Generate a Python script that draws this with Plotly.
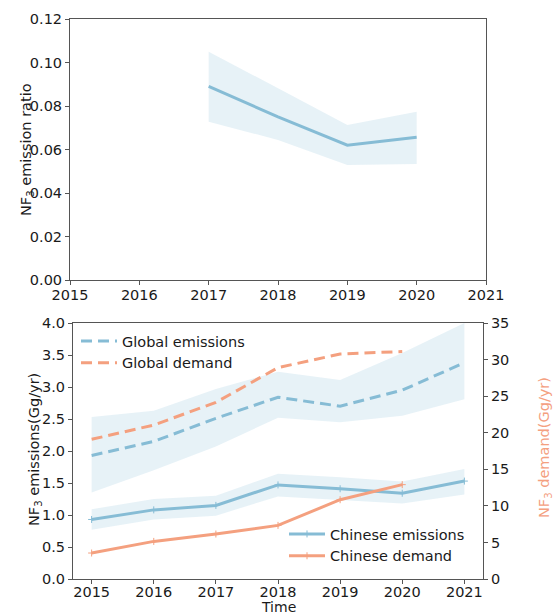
import plotly.graph_objects as go

# ---- data ----
ratio_years = [2017, 2018, 2019, 2020]
ratio_mean = [0.089, 0.075, 0.062, 0.0656]
ratio_upper = [0.105, 0.088, 0.0713, 0.0774]
ratio_lower = [0.0728, 0.0644, 0.0529, 0.0533]

years = [2015, 2016, 2017, 2018, 2019, 2020, 2021]
global_emis = [1.93, 2.15, 2.51, 2.84, 2.70, 2.95, 3.38]
global_emis_upper = [2.53, 2.63, 2.97, 3.24, 3.11, 3.53, 4.00]
global_emis_lower = [1.35, 1.70, 2.07, 2.52, 2.45, 2.55, 2.81]

china_emis = [0.93, 1.08, 1.15, 1.47, 1.41, 1.34, 1.53]
china_emis_upper = [1.09, 1.25, 1.30, 1.645, 1.59, 1.525, 1.72]
china_emis_lower = [0.77, 0.93, 0.99, 1.29, 1.24, 1.18, 1.32]

demand_years = [2015, 2016, 2017, 2018, 2019, 2020]
global_demand = [19.1, 21.05, 24.15, 28.9, 30.76, 31.1]
china_demand = [3.55, 5.14, 6.15, 7.33, 10.84, 12.9]

ratio_ticks = [0, 0.02, 0.04, 0.06, 0.08, 0.10, 0.12]
emis_ticks = [0, 0.5, 1.0, 1.5, 2.0, 2.5, 3.0, 3.5, 4.0]
demand_ticks = [0, 5, 10, 15, 20, 25, 30, 35]

# ---- style ----
BLUE = "#86bcd5"
ORANGE = "#f4a07f"
BAND = "rgba(134,188,213,0.20)"
FONT = "DejaVu Sans"
FS = 14.5
TXT = "#1a1a1a"
AX = "#555555"
W, H = 559, 616


def band(x, upper, lower, xa, ya):
    return go.Scatter(
        x=list(x) + list(x)[::-1],
        y=list(upper) + list(lower)[::-1],
        fill="toself", fillcolor=BAND, line=dict(width=0),
        mode="lines", hoverinfo="skip", showlegend=False,
        xaxis=xa, yaxis=ya,
    )


fig = go.Figure()

# top panel: emission ratio
fig.add_trace(band(ratio_years, ratio_upper, ratio_lower, "x", "y"))
fig.add_trace(go.Scatter(x=ratio_years, y=ratio_mean, mode="lines",
                         line=dict(color=BLUE, width=3), showlegend=False,
                         xaxis="x", yaxis="y"))

# bottom panel: emissions (left axis) and demand (right axis)
fig.add_trace(band(years, global_emis_upper, global_emis_lower, "x2", "y2"))
fig.add_trace(band(years, china_emis_upper, china_emis_lower, "x2", "y2"))

fig.add_trace(go.Scatter(x=years, y=global_emis, mode="lines", name="Global emissions",
                         line=dict(color=BLUE, width=3, dash="11px,6px"),
                         xaxis="x2", yaxis="y2", legend="legend"))
fig.add_trace(go.Scatter(x=demand_years, y=global_demand, mode="lines", name="Global demand",
                         line=dict(color=ORANGE, width=3, dash="11px,6px"),
                         xaxis="x2", yaxis="y3", legend="legend"))
fig.add_trace(go.Scatter(x=years, y=china_emis, mode="lines+markers", name="Chinese emissions",
                         line=dict(color=BLUE, width=3),
                         marker=dict(symbol="cross-thin", size=5, line=dict(color=BLUE, width=1)),
                         xaxis="x2", yaxis="y2", legend="legend2"))
fig.add_trace(go.Scatter(x=demand_years, y=china_demand, mode="lines+markers", name="Chinese demand",
                         line=dict(color=ORANGE, width=3),
                         marker=dict(symbol="cross-thin", size=5, line=dict(color=ORANGE, width=1)),
                         xaxis="x2", yaxis="y3", legend="legend2"))

axis_common = dict(showline=True, linecolor=AX, linewidth=1, ticks="outside",
                   ticklen=4, tickcolor=AX, showgrid=False, zeroline=False,
                   automargin=False,
                   tickfont=dict(family=FONT, size=FS, color=TXT))


def label(text, x, y, angle=0, color=TXT, size=FS):
    return dict(text=text, x=x / W, y=1 - y / H, xref="paper", yref="paper",
                xanchor="center", yanchor="middle", textangle=angle,
                showarrow=False, font=dict(family=FONT, size=size, color=color))


legend_style = dict(xanchor="left", yanchor="top", bgcolor="rgba(255,255,255,0)",
                    font=dict(family=FONT, size=FS, color=TXT),
                    tracegroupgap=0, itemwidth=36)

fig.update_layout(
    width=W, height=H,
    margin=dict(l=0, r=0, t=0, b=0, pad=0, autoexpand=False),
    paper_bgcolor="white", plot_bgcolor="white",
    font=dict(family=FONT, size=FS, color=TXT),
    xaxis=dict(domain=[70 / W, 486 / W], anchor="y", range=[2015, 2021],
               tickvals=years, mirror=True, ticklabelstandoff=-2, **axis_common),
    yaxis=dict(domain=[1 - 280 / H, 1 - 19 / H], anchor="x", range=[0, 0.12],
               tickvals=ratio_ticks, tickformat=".2f", mirror=True, **axis_common),
    xaxis2=dict(domain=[73 / W, 483 / W], anchor="y2", range=[2014.7, 2021.3],
                tickvals=years, mirror=True, ticklabelstandoff=-4, **axis_common),
    yaxis2=dict(domain=[1 - 579 / H, 1 - 323 / H], anchor="x2", range=[0, 4],
                tickvals=emis_ticks, tickformat=".1f", **axis_common),
    yaxis3=dict(overlaying="y2", anchor="x2", side="right", range=[0, 35],
                tickvals=demand_ticks, **axis_common),
    legend=dict(x=76 / W, y=1 - 325 / H, **legend_style),
    legend2=dict(x=284 / W, y=1 - 518 / H, **legend_style),
    annotations=[
        label("NF<sub>3</sub> emission ratio", 27, 150, -90),
        label("NF<sub>3</sub> emissions(Gg/yr)", 35, 450, -90),
        label("NF<sub>3</sub> demand(Gg/yr)", 545, 448, -90, ORANGE),
        label("Time", 278, 607, size=14),
    ],
)

fig.write_html("out.html")
